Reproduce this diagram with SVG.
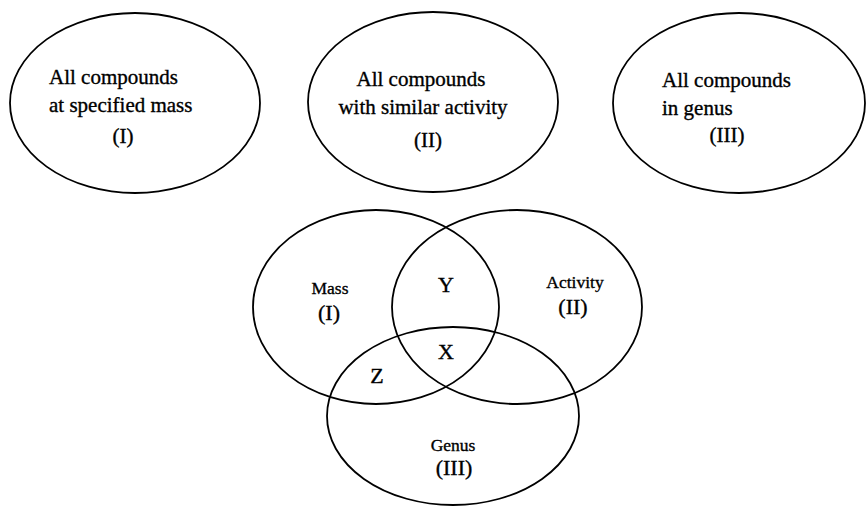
<svg xmlns="http://www.w3.org/2000/svg" width="868" height="507" viewBox="0 0 868 507">
  <style>
    .set { fill: none; stroke: #000; stroke-width: 1.8; }
    .t { font-family: "Liberation Serif", "Times New Roman", serif; fill: #000; stroke: #000; stroke-width: 0.35; }
    .big { font-size: 21px; }
    .mid { font-size: 22px; }
    .small { font-size: 17.5px; }
  </style>
  <rect width="868" height="507" fill="#fff"/>

  <!-- Separate sets -->
  <g id="set-mass">
    <ellipse class="set" cx="135" cy="103" rx="125" ry="90"/>
    <text class="t big" x="49" y="84">All compounds</text>
    <text class="t big" x="49" y="112">at specified mass</text>
    <text class="t big" x="123" y="143" text-anchor="middle">(I)</text>
  </g>
  <g id="set-activity">
    <ellipse class="set" cx="433" cy="102" rx="125" ry="90"/>
    <text class="t big" x="421" y="86" text-anchor="middle">All compounds</text>
    <text class="t big" x="423" y="114" text-anchor="middle">with similar activity</text>
    <text class="t big" x="428" y="147" text-anchor="middle">(II)</text>
  </g>
  <g id="set-genus">
    <ellipse class="set" cx="739" cy="103" rx="126" ry="90"/>
    <text class="t big" x="662" y="87">All compounds</text>
    <text class="t big" x="662" y="115">in genus</text>
    <text class="t big" x="727" y="142" text-anchor="middle">(III)</text>
  </g>

  <!-- Overlapping sets -->
  <g id="venn-mass">
    <ellipse class="set" cx="376" cy="307" rx="123" ry="97"/>
    <text class="t small" x="330" y="294" text-anchor="middle">Mass</text>
    <text class="t mid" x="329" y="320" text-anchor="middle">(I)</text>
  </g>
  <g id="venn-activity">
    <ellipse class="set" cx="517" cy="307" rx="125" ry="97"/>
    <text class="t small" x="575" y="288" text-anchor="middle">Activity</text>
    <text class="t mid" x="573" y="314" text-anchor="middle">(II)</text>
  </g>
  <g id="venn-genus">
    <ellipse class="set" cx="453" cy="416" rx="126" ry="89"/>
    <text class="t small" x="453" y="451" text-anchor="middle">Genus</text>
    <text class="t mid" x="454" y="475" text-anchor="middle">(III)</text>
  </g>
  <g id="regions">
    <text class="t mid" x="446" y="292" text-anchor="middle">Y</text>
    <text class="t mid" x="446" y="359" text-anchor="middle">X</text>
    <text class="t mid" x="377" y="383" text-anchor="middle">Z</text>
  </g>
</svg>
